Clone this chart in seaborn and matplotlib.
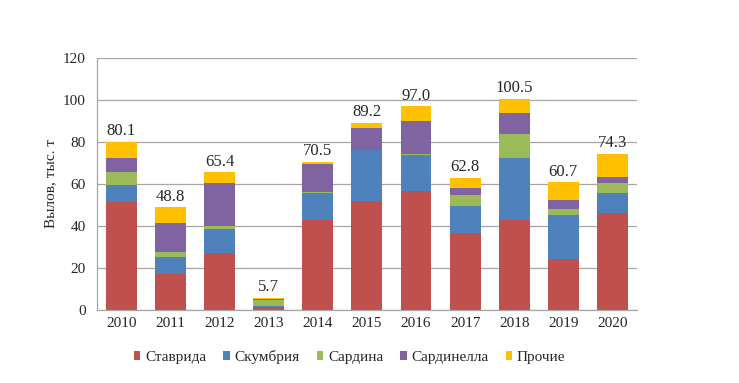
import matplotlib
matplotlib.use("Agg")
import matplotlib.pyplot as plt
import seaborn as sns
import pandas as pd
import numpy as np

# Catch by year, thousand tonnes
years = ['2010', '2011', '2012', '2013', '2014', '2015', '2016', '2017', '2018', '2019', '2020']
stavrida = [51.2, 17.3, 27.2, 1.3, 43.0, 51.6, 56.5, 36.8, 43.0, 24.2, 46.1]
skumbria = [8.2, 7.8, 11.4, 0.7, 12.5, 24.3, 17.4, 12.8, 29.4, 21.2, 9.6]
sardina = [6.2, 2.4, 1.4, 2.8, 0.6, 0.3, 0.2, 5.0, 11.2, 2.4, 4.9]
sardinella = [6.6, 13.8, 20.2, 0.4, 13.3, 10.5, 15.6, 3.2, 10.1, 4.4, 2.6]
prochie = [7.9, 7.5, 5.2, 0.5, 1.1, 2.5, 7.3, 5.0, 6.8, 8.5, 11.1]
totals = [80.1, 48.8, 65.4, 5.7, 70.5, 89.2, 97.0, 62.8, 100.5, 60.7, 74.3]

series = {
    'Ставрида': stavrida,
    'Скумбрия': skumbria,
    'Сардина': sardina,
    'Сардинелла': sardinella,
    'Прочие': prochie,
}
colors = ['#C0504D', '#4F81BD', '#9BBB59', '#8064A2', '#FFC000']

df = pd.DataFrame(series)
df['Год'] = years

sns.set_style("white")
plt.rcParams['font.family'] = ['Liberation Serif', 'DejaVu Serif']

fig = plt.figure(figsize=(7.39, 3.83), dpi=100)
ax = fig.add_axes([0.131, 0.191, 0.731, 0.658])

bottom = np.zeros(len(years))
for (name, vals), c in zip(series.items(), colors):
    sns.barplot(data=df, x='Год', y=name, bottom=bottom, color=c,
                width=0.63, label=name, ax=ax, saturation=1, linewidth=0)
    bottom = bottom + np.array(vals)

# totals above bars
for i, t in enumerate(totals):
    ax.text(i, t + 1.2, f"{t:.1f}", ha='center', va='bottom', fontsize=12)

ax.set_ylim(0, 120)
ax.set_yticks(range(0, 121, 20))
ax.set_xlim(-0.5, len(years) - 0.5)
ax.yaxis.grid(True, color='#A6A6A6', linewidth=0.9)
ax.set_axisbelow(True)

ax.set_xlabel('')
ax.set_ylabel('Вылов, тыс. т', fontsize=11, labelpad=4)

for s in ['top', 'right']:
    ax.spines[s].set_visible(False)
for s in ['left', 'bottom']:
    ax.spines[s].set_color('#A6A6A6')
    ax.spines[s].set_linewidth(0.9)

ax.tick_params(axis='y', length=4, color='#A6A6A6', labelsize=11, pad=4)
ax.tick_params(axis='x', which='major', length=0, labelsize=11, pad=5)
ax.set_xticks(np.arange(-0.5, len(years), 1.0), minor=True)
ax.tick_params(axis='x', which='minor', length=5, color='#A6A6A6')

handles, labels = ax.get_legend_handles_labels()
if ax.legend_:
    ax.legend_.remove()
fig.legend(handles, labels, loc='center', bbox_to_anchor=(0.473, 0.068),
           ncol=5, frameon=False, fontsize=11, handlelength=0.45, handleheight=0.45,
           handletextpad=0.3, columnspacing=1.1, borderaxespad=0)

fig.savefig('out.png', dpi=100)
